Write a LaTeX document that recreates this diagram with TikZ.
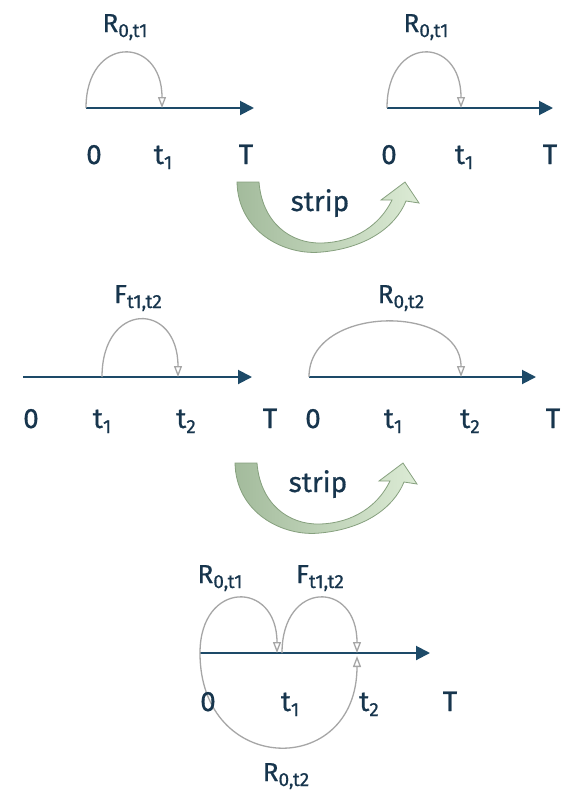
\documentclass[tikz,border=0pt]{standalone}
\usepackage{fontspec}
\setmainfont{Fira Sans}[FakeBold=0.6]
\usetikzlibrary{arrows.meta}
\definecolor{navy}{HTML}{17354D}
\definecolor{axisblue}{HTML}{1D4A68}
\definecolor{arcgray}{HTML}{A6A6A6}
\definecolor{gdark}{HTML}{A3BB9C}
\definecolor{glight}{HTML}{DCEBD5}
\definecolor{gline}{HTML}{86A07E}
\newcommand{\mysub}[1]{\raisebox{-5pt}{\fontsize{19}{19}\selectfont #1}}
\begin{document}
\begin{tikzpicture}[x=1pt,y=-1pt,
 lbl/.style={text=navy, font=\fontsize{28}{30}\selectfont, inner sep=0pt, anchor=base},
 rlbl/.style={lbl, font=\fontsize{26}{28}\selectfont},
 axisline/.style={draw=axisblue, line width=2pt, -{Triangle[length=14pt,width=14pt]}},
 arcline/.style={draw=arcgray, line width=1.3pt, -{Triangle[open,length=11pt,width=8pt]}},
 striparrow/.pic={
   \path[draw=gline, line width=0.8pt, left color=gdark, right color=glight]
     (0,0) .. controls (1,50) and (48,74) .. (85,70)
     .. controls (128,66) and (158,46) .. (169,19)
     -- (182,21) -- (168,0) -- (144,18) -- (155,18)
     .. controls (143,43) and (118,60) .. (85,61)
     .. controls (53,62) and (25,40) .. (22,0) -- cycle;
 }
]
\useasboundingbox[fill=white] (0,0) rectangle (572,796);

% ---- Panel A (top left)
\coordinate (A0) at (86,108);
\coordinate (At1) at (162,108);
\coordinate (Aend) at (254,108);
\draw[axisline] (A0) -- (Aend);
\draw[arcline] (A0) .. controls +(0,-73) and +(0,-73) .. (At1);
\node[rlbl] (AR) at (125,32) {R\mysub{0,t1}};
\node[lbl] (Al0) at (94,164) {0};
\node[lbl] (Alt1) at (163,164) {t\mysub{1}};
\node[lbl] (AlT) at (246,164) {T};

% ---- Panel B (top right)
\coordinate (B0) at (387,108);
\coordinate (Bt1) at (461,108);
\coordinate (Bend) at (553,108);
\draw[axisline] (B0) -- (Bend);
\draw[arcline] (B0) .. controls +(0,-73) and +(0,-73) .. (Bt1);
\node[rlbl] (BR) at (426,32) {R\mysub{0,t1}};
\node[lbl] (Bl0) at (389,164) {0};
\node[lbl] (Blt1) at (464,164) {t\mysub{1}};
\node[lbl] (BlT) at (550,164) {T};

% ---- strip arrow 1
\pic at (237,182) {striparrow};
\node[lbl] (S1) at (320,211) {strip};

% ---- Panel C (middle left)
\coordinate (C0) at (23,377);
\coordinate (Ct1) at (102,377);
\coordinate (Ct2) at (178,377);
\coordinate (Cend) at (252,377);
\draw[axisline] (C0) -- (Cend);
\draw[arcline] (Ct1) .. controls +(0,-76) and +(0,-76) .. (Ct2);
\node[rlbl] (CF) at (138,303) {F\mysub{t1,t2}};
\node[lbl] (Cl0) at (31,428) {0};
\node[lbl] (Clt1) at (102,428) {t\mysub{1}};
\node[lbl] (Clt2) at (186,428) {t\mysub{2}};
\node[lbl] (ClT) at (270,428) {T};

% ---- Panel D (middle right)
\coordinate (D0) at (309,377);
\coordinate (Dt2) at (461,377);
\coordinate (Dend) at (536,377);
\draw[axisline] (D0) -- (Dend);
\draw[arcline] (D0) .. controls +(0,-73) and +(0,-73) .. (Dt2);
\node[rlbl] (DR) at (401,303) {R\mysub{0,t2}};
\node[lbl] (Dl0) at (313,428) {0};
\node[lbl] (Dlt1) at (393,428) {t\mysub{1}};
\node[lbl] (Dlt2) at (470,428) {t\mysub{2}};
\node[lbl] (DlT) at (553,428) {T};

% ---- strip arrow 2
\pic at (235,463) {striparrow};
\node[lbl] (S2) at (318,492) {strip};

% ---- Panel E (bottom)
\coordinate (E0) at (200,653);
\coordinate (Et1) at (277,653);
\coordinate (Et1b) at (282,653);
\coordinate (Et2) at (357,653);
\coordinate (Et2b) at (357,656);
\coordinate (Eend) at (430,653);
\draw[axisline] (E0) -- (Eend);
\draw[arcline] (E0) .. controls +(0,-73) and +(0,-73) .. (Et1);
\draw[arcline] (Et1b) .. controls +(0,-73) and +(0,-73) .. (Et2);
\draw[arcline] (E0) .. controls +(0,123) and +(0,123) .. (Et2b);
\node[rlbl] (ER1) at (220,583) {R\mysub{0,t1}};
\node[rlbl] (EF) at (320,583) {F\mysub{t1,t2}};
\node[rlbl] (ER2) at (286,781) {R\mysub{0,t2}};
\node[lbl] (El0) at (208,711) {0};
\node[lbl] (Elt1) at (290,711) {t\mysub{1}};
\node[lbl] (Elt2) at (369,711) {t\mysub{2}};
\node[lbl] (ElT) at (450,711) {T};
\end{tikzpicture}
\end{document}
